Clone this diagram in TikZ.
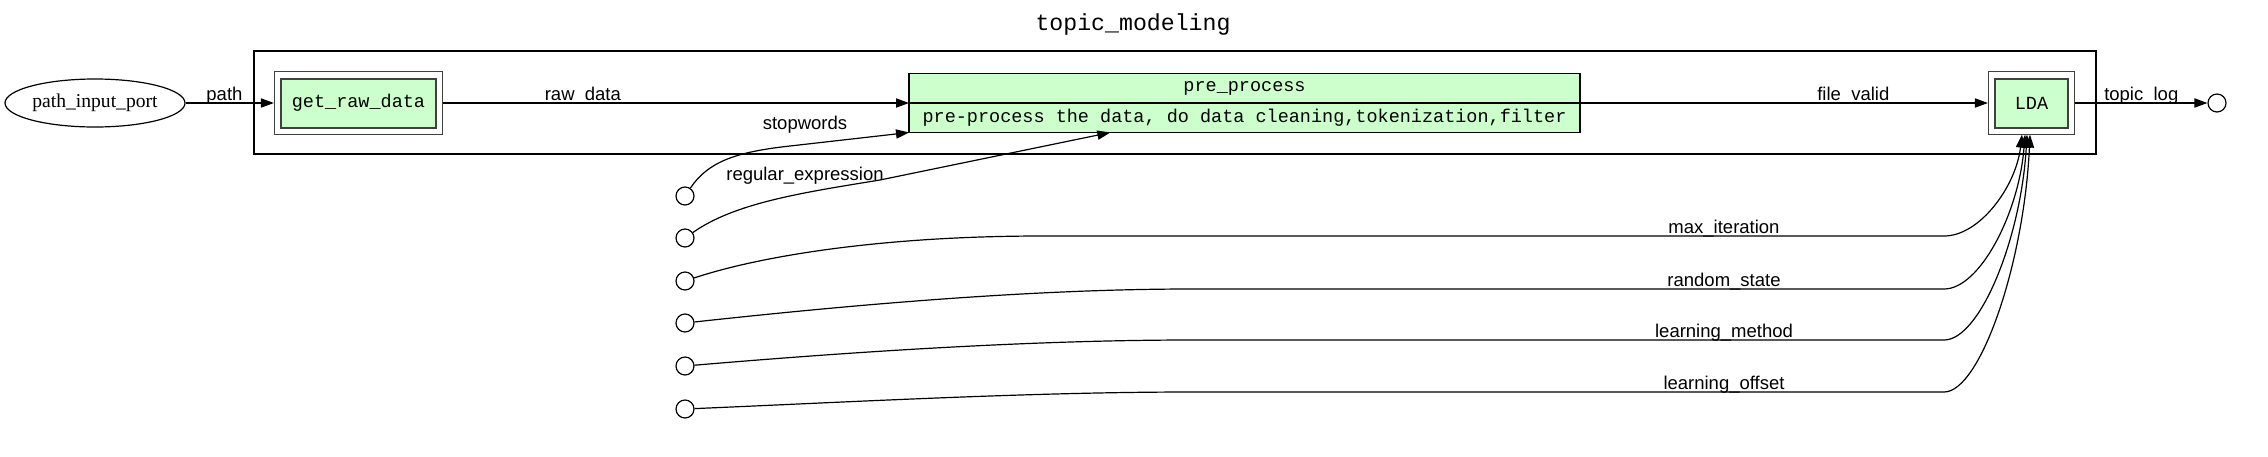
\documentclass[tikz,border=0pt]{standalone}
\usepackage{fontspec}
\setmainfont{Liberation Serif}
\setsansfont{Liberation Sans}
\setmonofont{Liberation Mono}
\usetikzlibrary{arrows.meta,positioning,calc,fit,shapes.geometric}
\definecolor{taskgreen}{RGB}{204,255,204}
\definecolor{rimgray}{RGB}{64,64,64}
% #1 source port, #2 first control, #3 y of the run, #4 x where the run starts, #5 label, #6 offset at LDA
\newcommand{\ldaparam}[6]{%
  \draw[edg] (#1) .. controls (#2) and (#4-160,#3) .. (#4,#3)
    -- (1724,#3) node[elbl] {#5} -- (1944,#3)
    .. controls (1980,#3) and ($(ldabox.south)+(#6-6,{(#3-133)/2})$) .. ($(ldabox.south)+(#6,0)$);}
\tikzset{
  ttl/.style={font=\ttfamily\fontsize{11.6}{14}\selectfont},
  clusterline/.style={draw=black, line width=1.3pt},
  inport/.style={ellipse, draw, line width=0.6pt, minimum width=90pt, minimum height=24pt,
    inner sep=0pt, font=\rmfamily\fontsize{9.8}{12}\selectfont},
  task/.style={rectangle, draw=rimgray, line width=1pt, fill=taskgreen, minimum height=24.5pt,
    inner sep=0pt, font=\ttfamily\fontsize{9.25}{11}\selectfont},
  taskframe/.style={rectangle, draw=black!75, line width=0.5pt, inner sep=2.8pt},
  record/.style={rectangle, draw, line width=0.6pt, fill=taskgreen, minimum width=335.5pt,
    minimum height=14.75pt, inner sep=0pt, outer sep=0pt, font=\ttfamily\fontsize{9.25}{11}\selectfont},
  portdot/.style={circle, draw, line width=0.6pt, minimum size=9pt, inner sep=0pt},
  edg/.style={-{Triangle[length=6.5pt, width=4.6pt]}, line width=0.6pt},
  elbl/.style={font=\sffamily\fontsize{9.25}{11}\selectfont, inner sep=0pt, anchor=base, yshift=1.5pt},
  clbl/.style={font=\sffamily\fontsize{9.25}{11}\selectfont, inner sep=0pt},
}
\begin{document}
\begin{tikzpicture}[x=0.5pt,y=-0.5pt]
\useasboundingbox (0,0) rectangle (2268,456);
% cluster
\node[ttl] (title) at (1133,24) {topic\_modeling};
\draw[clusterline] (254,51) rectangle (2096,154);
% tasks
\node[inport] (pathin) at (95,103) {path\_input\_port};
\node[task, minimum width=77.5pt] (grd) at (358.5,103) {get\_raw\_data};
\node[taskframe, fit=(grd)] (grdbox) {};
\node[record] (ppname) at (1244.5,88.25) {pre\_process};
\node[record, below=0pt of ppname] (ppdesc) {pre-process the data, do data cleaning,tokenization,filter};
\node[task, minimum width=36.5pt] (lda) at (2031.5,103) {LDA};
\node[taskframe, fit=(lda)] (ldabox) {};
% free ports
\node[portdot] (plog) at (2217,103) {};
\node[portdot] (pstop) at (685,196) {};
\node[portdot] (pregex) at (685,238) {};
\node[portdot] (pmaxit) at (685,281) {};
\node[portdot] (prand) at (685,323) {};
\node[portdot] (pmeth) at (685,366) {};
\node[portdot] (poff) at (685,409) {};
% main chain
\draw[edg] (pathin) -- node[elbl, pos=0.44] {path} (grdbox);
\draw[edg] (grdbox) -- node[elbl, pos=0.3] {raw\_data} (ppname.south west);
\draw[edg] (ppname.south east) -- node[elbl, pos=0.67] {file\_valid} (ldabox);
\draw[edg] (ldabox) -- node[elbl, pos=0.5] {topic\_log} (plog);
% inputs of pre_process
\draw[edg] (pstop) .. controls (708,162) and (735,152) .. (790,146) -- (ppdesc.south west);
\draw[edg] (pregex) .. controls (735,203) and (800,193) .. (880,180)
  -- ($(ppdesc.south west)!0.3!(ppdesc.south east)$);
\node[clbl] (lstop) at (805,125) {stopwords};
\node[clbl] (lregex) at (805,176) {regular\_expression};
% inputs of LDA
\ldaparam{pmaxit}{760,256}{236}{1042}{max\_iteration}{-9.5}
\ldaparam{prand}{850,305}{289}{1191}{random\_state}{-6.5}
\ldaparam{pmeth}{850,352}{340}{1191}{learning\_method}{-4.5}
\ldaparam{poff}{850,402}{392}{1191}{learning\_offset}{-1.5}
\end{tikzpicture}
\end{document}
